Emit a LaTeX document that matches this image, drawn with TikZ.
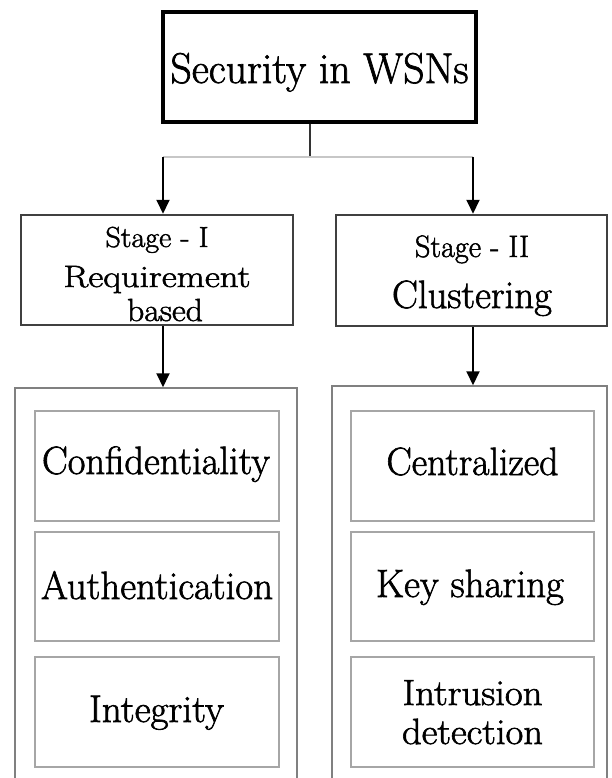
\documentclass[tikz,border=0pt]{standalone}
\usepackage{fontspec}
\newfontfamily\heavy{Latin Modern Roman}[FakeBold=1.6]
\usetikzlibrary{arrows.meta}
% #1 double x offset, #2 raise (pt, up), #3 target width, #4 font size, #5 text
\newcommand\txl[5]{\makebox[0pt][c]{\hspace*{#1pt}\raisebox{#2pt}[0pt][0pt]{\resizebox{#3pt}{\height}{\heavy\fontsize{#4pt}{#4pt}\selectfont #5}}}}
\begin{document}
\begin{tikzpicture}[x=1pt,y=-1pt,
  topbox/.style={draw=black, line width=3.5pt, inner sep=0pt, minimum width=313pt, minimum height=110pt},
  stagebox/.style={draw=black!75, line width=2.5pt, inner sep=0pt, minimum width=272pt, minimum height=110pt},
  outerbox/.style={draw=black!50, line width=1.5pt, inner sep=0pt},
  innerbox/.style={draw=black!35, line width=1.5pt, inner sep=0pt, minimum width=244pt, minimum height=110pt},
  arr/.style={draw=black, line width=2pt, -{Triangle[length=14pt,width=13pt]}},
  stem/.style={draw=black!80, line width=2pt},
  bar/.style={draw=black!22, line width=2.5pt}]
\useasboundingbox (0,0) rectangle (611,778);
\clip (0,0) rectangle (611,778);
\fill[white] (0,0) rectangle (611,778);

\node[topbox] (top) at (319.5,67) {\txl{0}{-16}{298}{43}{Security in WSNs}};
\node[stagebox] (s1) at (157,270) {\txl{0}{23}{103}{29}{Stage - I}\txl{0}{-17}{187}{31}{Requirement}\txl{16}{-51}{76}{32}{based}};
\node[stagebox, minimum width=271pt, minimum height=111pt] (s2) at (471.5,270.5) {\txl{1}{13.5}{114}{31}{Stage - II}\txl{1}{-37.5}{160}{39.5}{Clustering}};

\node[outerbox, minimum width=282pt, minimum height=412pt] (c1) at (156,594) {};
\node[outerbox, minimum width=275pt, minimum height=414pt] (c2) at (469.5,593) {};

\node[innerbox] (a1) at (157,466) {\txl{-2}{-8}{228}{39.5}{Confidentiality}};
\node[innerbox, minimum height=109pt] (a2) at (157,586.5) {\txl{0}{-12.5}{232}{39.5}{Authentication}};
\node[innerbox] (a3) at (157,712) {\txl{-1}{-10}{135}{38.5}{Integrity}};
\node[innerbox, minimum width=243pt] (b1) at (472.5,466) {\txl{0}{-9}{172}{39.5}{Centralized}};
\node[innerbox, minimum width=243pt, minimum height=109pt] (b2) at (472.5,586.5) {\txl{-5}{-10.5}{188}{39.5}{Key sharing}};
\node[innerbox, minimum width=243pt] (b3) at (472.5,712) {\txl{0}{7}{140}{36.5}{Intrusion}\txl{0}{-32}{141}{36.5}{detection}};

\coordinate (split) at (310,157);
\coordinate (jl) at (163,157);
\coordinate (jr) at (473,157);
\draw[stem] (top.south -| split) -- (split);
\draw[bar] (jl) -- (jr);
\draw[arr] (jl) -- (jl |- s1.north);
\draw[arr] (jr) -- (jr |- s2.north);
\draw[arr] (s1.south -| jl) -- (c1.north -| jl);
\draw[arr] (s2.south -| jr) -- (c2.north -| jr);
\end{tikzpicture}
\end{document}
